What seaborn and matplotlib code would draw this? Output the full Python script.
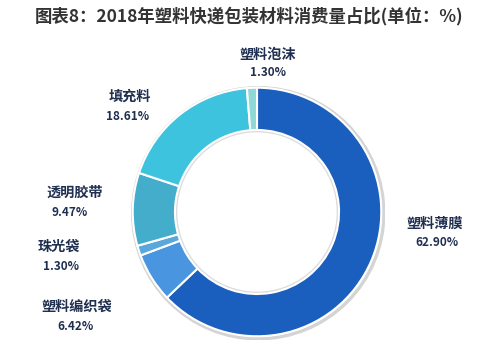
import matplotlib
matplotlib.use("Agg")
import matplotlib.pyplot as plt
import seaborn as sns
from matplotlib.patches import Circle

categories = ["塑料薄膜", "塑料编织袋", "珠光袋", "透明胶带", "填充料", "塑料泡沫"]
values = [62.90, 6.42, 1.30, 9.47, 18.61, 1.30]
value_labels = ["62.90%", "6.42%", "1.30%", "9.47%", "18.61%", "1.30%"]
colors = ["#1a5fbd", "#4a95e0", "#5aa7dc", "#45adcc", "#3ec3df", "#8ed8d6"]
title = "图表8：2018年塑料快递包装材料消费量占比(单位：%)"

sns.set_theme(style="white")
plt.rcParams['font.family'] = ['Noto Sans CJK SC', 'DejaVu Sans']

W, H = 500, 362
fig = plt.figure(figsize=(W / 100, H / 100), dpi=100)
fig.patch.set_facecolor("white")

cx, cy, r = 257, 212, 128
ax = fig.add_axes([(cx - r) / W, 1 - (cy + r) / H, 2 * r / W, 2 * r / H])
ax.set_xlim(-1.03, 1.03)
ax.set_ylim(-1.03, 1.03)
ax.axis("off")

# soft shadow rings
ax.add_patch(Circle((0.01, -0.01), 1.01, facecolor="none", edgecolor="#d4d4d4", lw=2.5, zorder=0))
ax.add_patch(Circle((0.0, 0.0), 0.655, facecolor="none", edgecolor="#dcdcdc", lw=2.5, zorder=0))

ax.pie(values, colors=colors, startangle=90, counterclock=False, radius=1.0,
       wedgeprops=dict(width=0.34, edgecolor="white", linewidth=1.5))
ax.set_xlim(-1.03, 1.03)
ax.set_ylim(-1.03, 1.03)

label_pos = [(435, 224, 437, 243), (77, 307, 75, 326), (59, 247, 61, 266),
             (75, 193, 70, 213), (130, 97, 128, 116), (268, 55, 268, 73)]
txt = "#1f2f50"
for cat, vl, (x1, y1, x2, y2) in zip(categories, value_labels, label_pos):
    fig.text(x1 / W, 1 - y1 / H, cat, ha="center", va="center", fontsize=10.2,
             fontweight="bold", color=txt)
    fig.text(x2 / W, 1 - y2 / H, vl, ha="center", va="center", fontsize=8.5,
             fontweight="bold", color=txt)

fig.text(249 / W, 1 - 16 / H, title, ha="center", va="center", fontsize=12.5,
         fontweight="bold", color="#333333")

fig.savefig("out.png", dpi=100, facecolor="white")
